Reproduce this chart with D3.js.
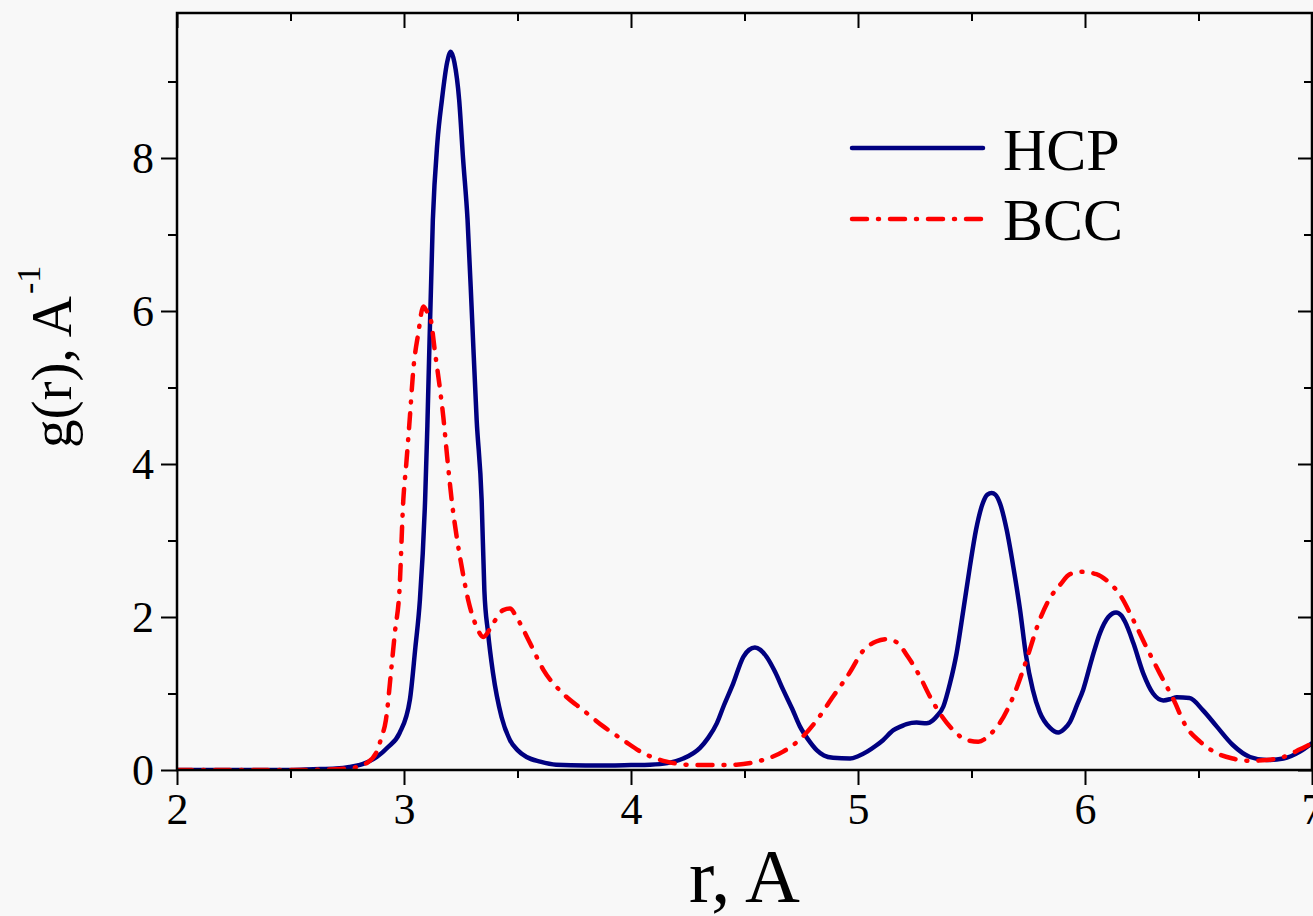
<!DOCTYPE html>
<html>
<head>
<meta charset="utf-8">
<script src="https://cdn.jsdelivr.net/npm/d3@7"></script>
<style>
html,body{margin:0;padding:0;background:#f8f8f8;}
svg{display:block;}
text{font-family:"Liberation Serif","Times New Roman",serif;fill:#000;}
</style>
</head>
<body>
<svg id="chart" width="1313" height="916"></svg>
<script>
const rHCP = [2.0,2.5,2.6,2.7,2.76,2.82,2.88,2.93,2.98,3.026,3.05,3.07,3.093,3.103,3.127,3.147,3.167,3.19,3.206,3.222,3.243,3.26,3.28,3.30,3.32,3.342,3.354,3.37,3.392,3.43,3.467,3.50,3.54,3.6,3.67,3.8,3.9,4.0,4.084,4.16,4.23,4.304,4.34,4.378,4.41,4.45,4.495,4.52,4.546,4.57,4.597,4.635,4.67,4.71,4.744,4.78,4.818,4.85,4.89,4.965,5.0,5.04,5.08,5.11,5.156,5.19,5.214,5.258,5.302,5.33,5.346,5.376,5.405,5.434,5.464,5.493,5.52,5.55,5.57,5.589,5.605,5.626,5.655,5.684,5.714,5.74,5.77,5.80,5.846,5.882,5.91,5.934,5.965,5.992,6.03,6.066,6.103,6.137,6.16,6.176,6.213,6.257,6.30,6.345,6.38,6.404,6.46,6.52,6.58,6.65,6.727,6.80,6.874,6.947,7.0];
const gHCP = [0,0,0.01,0.02,0.04,0.08,0.17,0.30,0.48,0.92,1.6,2.22,3.53,4.5,7.19,8.2,8.76,9.25,9.39,9.25,8.76,8.0,7.19,5.9,4.58,3.53,2.35,1.8,1.27,0.69,0.39,0.26,0.17,0.11,0.07,0.06,0.06,0.065,0.07,0.09,0.15,0.29,0.42,0.61,0.85,1.13,1.48,1.57,1.60,1.57,1.48,1.28,1.05,0.8,0.57,0.40,0.26,0.19,0.16,0.15,0.18,0.24,0.32,0.39,0.52,0.57,0.60,0.62,0.61,0.65,0.70,0.83,1.13,1.52,2.09,2.66,3.14,3.49,3.60,3.62,3.60,3.48,3.14,2.66,2.09,1.50,1.05,0.76,0.55,0.49,0.54,0.63,0.85,1.05,1.45,1.79,2.00,2.06,2.02,1.94,1.66,1.26,1.00,0.91,0.93,0.95,0.94,0.78,0.57,0.33,0.17,0.13,0.15,0.24,0.35];

const rBCC = [2.0,2.5,2.7,2.776,2.835,2.88,2.90,2.92,2.945,2.96,2.98,2.997,3.01,3.026,3.041,3.063,3.085,3.10,3.115,3.137,3.159,3.173,3.19,3.21,3.232,3.254,3.283,3.32,3.349,3.393,3.437,3.467,3.49,3.511,3.555,3.614,3.70,3.79,3.878,3.966,4.054,4.157,4.275,4.378,4.465,4.568,4.67,4.744,4.818,4.89,4.965,5.02,5.08,5.126,5.17,5.22,5.273,5.317,5.361,5.42,5.48,5.53,5.58,5.626,5.684,5.74,5.80,5.846,5.89,5.934,5.985,6.05,6.11,6.154,6.213,6.27,6.33,6.39,6.445,6.507,6.58,6.65,6.727,6.80,6.874,6.947,7.0];
const gBCC = [0,0,0.01,0.03,0.09,0.24,0.42,0.65,1.35,1.8,2.35,3.53,4.0,4.62,5.23,5.71,6.06,6.0,5.93,5.45,4.97,4.62,4.1,3.53,3.05,2.66,2.22,1.87,1.74,1.92,2.09,2.11,2.03,1.92,1.66,1.31,1.00,0.78,0.57,0.39,0.22,0.11,0.065,0.065,0.07,0.12,0.24,0.40,0.65,0.96,1.28,1.55,1.68,1.71,1.67,1.48,1.22,0.96,0.74,0.52,0.39,0.37,0.46,0.62,0.96,1.42,1.96,2.25,2.42,2.56,2.59,2.56,2.44,2.29,1.96,1.61,1.26,0.92,0.57,0.37,0.22,0.15,0.12,0.13,0.17,0.27,0.35];

const xMajorTicks = [2,3,4,5,6,7];
const xMinorTicks = [2.5,3.5,4.5,5.5,6.5];
const yMajorTicks = [0,2,4,6,8];
const yMinorTicks = [1,3,5,7,9];
const seriesNames = ["HCP","BCC"];

const svg = d3.select("#chart");
svg.append("rect").attr("width",1313).attr("height",916).attr("fill","#f8f8f8");

const L = 177, R = 1312, T = 13, B = 770;
const x = d3.scaleLinear().domain([2,7]).range([L,R]);
const y = d3.scaleLinear().domain([0,(B-T)/76.5]).range([B,T]);

const line = d3.line().x(d=>x(d[0])).y(d=>y(d[1])).curve(d3.curveMonotoneX);
const hcp = rHCP.map((r,i)=>[r,gHCP[i]]);
const bcc = rBCC.map((r,i)=>[r,gBCC[i]]);

const defs = svg.append("defs");
defs.append("clipPath").attr("id","clip").append("rect").attr("x",L).attr("y",T).attr("width",R-L).attr("height",B-T);

const g = svg.append("g").attr("clip-path","url(#clip)");
g.append("path").datum(hcp).attr("d",line).attr("fill","none")
  .attr("stroke","#000080").attr("stroke-width",4.5).attr("stroke-linejoin","round").attr("stroke-linecap","round");
g.append("path").datum(bcc).attr("d",line).attr("fill","none")
  .attr("stroke","#ff0000").attr("stroke-width",4.5).attr("stroke-linejoin","round").attr("stroke-linecap","round")
  .attr("stroke-dasharray","15,11,1,11");

// axes
const axB = svg.append("g").attr("transform",`translate(0,${B})`)
  .call(d3.axisBottom(x).tickValues(xMajorTicks).tickSize(15).tickFormat(d3.format("d")));
const axBm = svg.append("g").attr("transform",`translate(0,${B})`)
  .call(d3.axisBottom(x).tickValues(xMinorTicks).tickSize(8).tickFormat(""));
const axT = svg.append("g").attr("transform",`translate(0,${T})`)
  .call(d3.axisBottom(x).tickValues(xMajorTicks).tickSize(15).tickFormat(""));
const axTm = svg.append("g").attr("transform",`translate(0,${T})`)
  .call(d3.axisBottom(x).tickValues(xMinorTicks).tickSize(8).tickFormat(""));
const axL = svg.append("g").attr("transform",`translate(${L},0)`)
  .call(d3.axisLeft(y).tickValues(yMajorTicks).tickSize(16).tickFormat(d3.format("d")));
const axLm = svg.append("g").attr("transform",`translate(${L},0)`)
  .call(d3.axisLeft(y).tickValues(yMinorTicks).tickSize(9).tickFormat(""));
const axR = svg.append("g").attr("transform",`translate(${R},0)`)
  .call(d3.axisLeft(y).tickValues(yMajorTicks).tickSize(14).tickFormat(""));
const axRm = svg.append("g").attr("transform",`translate(${R},0)`)
  .call(d3.axisLeft(y).tickValues(yMinorTicks).tickSize(8).tickFormat(""));

[axB,axBm,axT,axTm,axL,axLm,axR,axRm].forEach(a=>{
  a.select(".domain").remove();
  a.selectAll(".tick line").attr("stroke","#000").attr("stroke-width",2);
});
axB.selectAll(".tick text").attr("font-size",44).attr("y",23).attr("dy","0.71em")
  .style("font-family","'Liberation Serif',serif");
axL.selectAll(".tick text").attr("font-size",44).attr("x",-23).attr("dy","0.33em")
  .style("font-family","'Liberation Serif',serif");

// frame
svg.append("rect").attr("x",L).attr("y",T).attr("width",R-L).attr("height",B-T)
  .attr("fill","none").attr("stroke","#000").attr("stroke-width",2.5);

// titles
svg.append("text").attr("x",(L+R)/2).attr("y",902).attr("text-anchor","middle")
  .attr("font-size",76).text("r, A");
const yt = svg.append("text").attr("transform","translate(71,448) rotate(-90)")
  .attr("text-anchor","start").attr("font-size",57);
yt.append("tspan").text("g(r), A");
yt.append("tspan").attr("font-size",34).attr("dy",-31).attr("dx",2).text("-1");

// legend
const leg = [{name:seriesNames[0],y:148,ty:170,color:"#000080",dash:null},
             {name:seriesNames[1],y:219,ty:240,color:"#ff0000",dash:"15,11,1,11"}];
leg.forEach(l=>{
  svg.append("line").attr("x1",852).attr("x2",983).attr("y1",l.y).attr("y2",l.y)
    .attr("stroke",l.color).attr("stroke-width",4.5).attr("stroke-linecap","round")
    .attr("stroke-dasharray",l.dash);
  svg.append("text").attr("x",1003).attr("y",l.ty).attr("font-size",60).text(l.name);
});
</script>
</body>
</html>
